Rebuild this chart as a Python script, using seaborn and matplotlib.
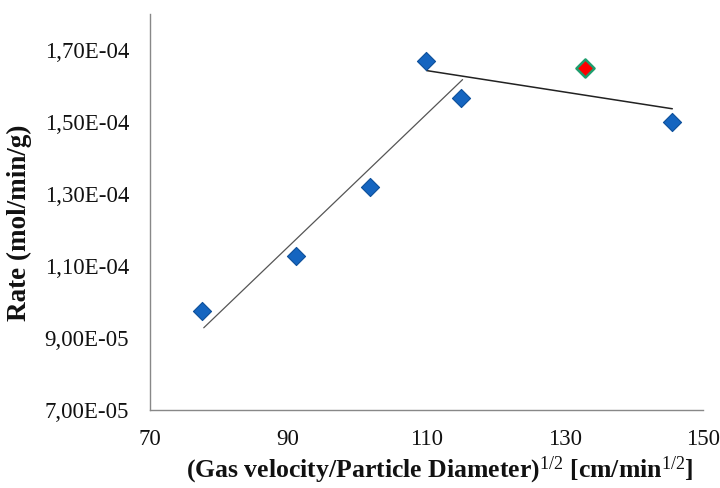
import matplotlib
matplotlib.use("Agg")
import matplotlib.pyplot as plt
import seaborn as sns
import pandas as pd
from matplotlib.ticker import FuncFormatter

# data
x_blue = [77.5, 91.1, 101.8, 109.9, 115.0, 145.5]
y_blue = [9.75e-05, 1.128e-04, 1.319e-04, 1.669e-04, 1.567e-04, 1.50e-04]
x_red = [132.9]
y_red = [1.65e-04]
trend1_x = [77.8, 115.2]
trend1_y = [9.28e-05, 1.617e-04]
trend2_x = [110.0, 145.5]
trend2_y = [1.642e-04, 1.536e-04]
x_ticks = [70, 90, 110, 130, 150]
y_ticks = [7e-05, 9e-05, 1.1e-04, 1.3e-04, 1.5e-04, 1.7e-04]

sns.set_style("white")
plt.rcParams['font.family'] = ['Liberation Serif', 'DejaVu Serif']
plt.rcParams['mathtext.fontset'] = 'custom'
plt.rcParams['mathtext.rm'] = 'Liberation Serif'
plt.rcParams['mathtext.it'] = 'Liberation Serif'
plt.rcParams['mathtext.bf'] = 'Liberation Serif:bold'

TXT = "#111111"

fig, ax = plt.subplots(figsize=(7.2, 4.88), dpi=100)
fig.subplots_adjust(left=0.208, right=0.977, top=0.972, bottom=0.16)

sns.lineplot(x=trend1_x, y=trend1_y, ax=ax, color="#555555", linewidth=0.9)
sns.lineplot(x=trend2_x, y=trend2_y, ax=ax, color="#222222", linewidth=1.1)
sns.scatterplot(x=x_blue, y=y_blue, ax=ax, marker="D", s=85, color="#1565C0",
                edgecolor="#0D4F9A", linewidth=0.8, zorder=3)
sns.scatterplot(x=x_red, y=y_red, ax=ax, marker="D", s=85, color="#FF0000",
                edgecolor="#1E9E6E", linewidth=1.8, zorder=3)

ax.set_xlim(70, 150)
ax.set_ylim(7e-05, 1.8e-04)
ax.set_xticks(x_ticks)
ax.set_yticks(y_ticks)

def fmt(v, pos):
    m, e = f"{v:.2E}".split("E")
    return f"{m.replace('.', ',')}E{e[0]}{e[1:].zfill(2)}"

ax.yaxis.set_major_formatter(FuncFormatter(fmt))
ax.xaxis.set_major_formatter(FuncFormatter(lambda v, p: f"{int(v)}"))
ax.tick_params(axis="x", length=0, labelsize=16.5, pad=14, labelcolor=TXT)
ax.tick_params(axis="y", length=0, labelsize=16.5, pad=15, labelcolor=TXT)

for s in ["top", "right"]:
    ax.spines[s].set_visible(False)
for s in ["left", "bottom"]:
    ax.spines[s].set_color("#888888")
    ax.spines[s].set_linewidth(1.0)

ax.set_xlabel(r"(Gas velocity/Particle Diameter)$^{\mathrm{1/2}}$ [cm/min$^{\mathrm{1/2}}$]",
              fontsize=18.5, fontweight="bold", color=TXT)
ax.set_ylabel("Rate (mol/min/g)", fontsize=19.5, fontweight="bold", color=TXT)
ax.xaxis.set_label_coords((440 - 150) / 553, -(470 - 410) / 396)
ax.yaxis.set_label_coords(-(150 - 20) / 553, (410 - 223) / 396)
ax.xaxis.label.set_va("center")
ax.yaxis.label.set_va("center")

fig.savefig("out.png", dpi=100)
